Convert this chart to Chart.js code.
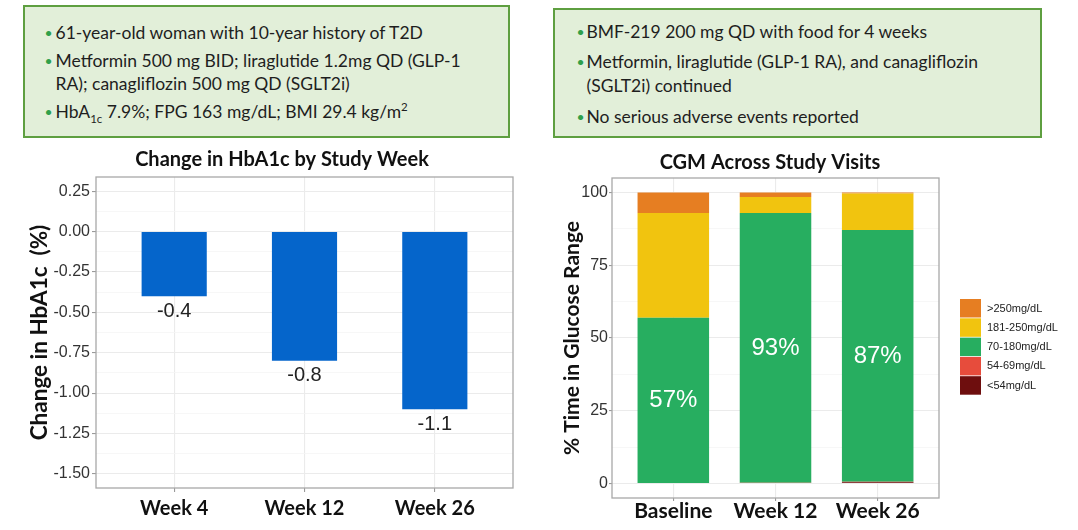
<!DOCTYPE html>
<html lang="en">
<head>
<meta charset="UTF-8">
<title>HbA1c change and CGM time in range</title>
<script src="https://cdn.jsdelivr.net/npm/chart.js"></script>
<style>
  body { margin: 0; width: 1078px; height: 530px; background: #fff; position: relative; overflow: hidden;
         font-family: Lato, 'Noto Sans', sans-serif; }
  .box { position: absolute; box-sizing: border-box; background: #E2EFD9; border: 2.5px solid #5E9F40; color: #1e1e1e;
         font-size: 17.5px; white-space: nowrap; }
  .box ul { margin: 0; padding: 0; list-style: none; }
  .box li { position: relative; }
  .box li:before { content: '\2022'; color: #2FA04A; position: absolute; left: -11px; font-size: 14px; }
  #box1 { left: 23px; top: 5px; width: 487px; height: 133px; padding: 14px 0 0 30.5px; }
  #box1 li { line-height: 23px; margin-bottom: 5px; }
  #box2 { left: 553px; top: 8px; width: 489px; height: 130px; padding: 9.5px 0 0 31.5px; }
  #box2 li { line-height: 24px; margin-bottom: 6.5px; }
  #box2 li:before { left: -10px; }
  sub, sup { font-size: 11.5px; line-height: 0; }
  #leftChart { position: absolute; left: 0; top: 145px; }
  #rightChart { position: absolute; left: 540px; top: 145px; }
</style>
</head>
<body>
  <div class="box" id="box1">
    <ul>
      <li>61-year-old woman with 10-year history of T2D</li>
      <li>Metformin 500 mg BID; liraglutide 1.2mg QD (GLP-1<br>RA); canagliflozin 500 mg QD (SGLT2i)</li>
      <li>HbA<sub>1c</sub> 7.9%; FPG 163 mg/dL; BMI 29.4 kg/m<sup>2</sup></li>
    </ul>
  </div>
  <div class="box" id="box2">
    <ul>
      <li>BMF-219 200 mg QD with food for 4 weeks</li>
      <li>Metformin, liraglutide (GLP-1 RA), and canagliflozin<br>(SGLT2i) continued</li>
      <li>No serious adverse events reported</li>
    </ul>
  </div>

  <canvas id="leftChart" width="540" height="385"></canvas>
  <canvas id="rightChart" width="538" height="385"></canvas>

  <script>
    // data
    const weekLabels = ['Week 4', 'Week 12', 'Week 26'];
    const hba1cChange = [-0.4, -0.8, -1.1];
    const hba1cTicks = [0.25, 0, -0.25, -0.5, -0.75, -1, -1.25, -1.5];

    const visitLabels = ['Baseline', 'Week 12', 'Week 26'];
    const rangeLabels = ['<54mg/dL', '54-69mg/dL', '70-180mg/dL', '181-250mg/dL', '>250mg/dL'];
    const below54 = [0, 0, 0.4];
    const range54to69 = [0, 0.2, 0.2];
    const range70to180 = [57, 92.8, 86.5];
    const range181to250 = [36, 5.5, 12.6];
    const above250 = [7, 1.5, 0.3];
    const tirLabels = ['57%', '93%', '87%'];
    const cgmTicks = [100, 75, 50, 25, 0];

    const rangeColors = ['#6E0E0E', '#E74C3C', '#27AE60', '#F1C40F', '#E67E22'];

    Chart.defaults.animation = false;
    Chart.defaults.plugins.legend.display = false;
    Chart.defaults.plugins.tooltip.enabled = false;

    // major ticks plus a minor line halfway between each pair (ggplot style)
    function withMinor(list, lo, hi) {
      const sorted = [...list].sort((a, b) => a - b);
      const out = [];
      const step = sorted[1] - sorted[0];
      for (let i = 0; i < sorted.length; i++) {
        const below = sorted[i] - step / 2;
        if (i === 0 && below > lo) out.push({ value: below, minor: true });
        out.push({ value: sorted[i] });
        const mid = sorted[i] + step / 2;
        if (mid < hi) out.push({ value: mid, minor: true });
      }
      return out;
    }

    const isMinor = c => c.tick && c.tick.minor;

    function yGrid() {
      return {
        color: c => isMinor(c) ? '#F5F5F5' : '#EBEBEB',
        lineWidth: c => isMinor(c) ? 0.8 : 1.1,
        tickColor: c => isMinor(c) ? 'rgba(0,0,0,0)' : '#9A9A9A',
        tickLength: 4
      };
    }

    function frameAndTitle(title, tx, ty, extra) {
      return {
        id: 'frameAndTitle',
        afterDraw(chart) {
          const { ctx, chartArea: a } = chart;
          ctx.save();
          ctx.strokeStyle = '#A8A8A8';
          ctx.lineWidth = 1.3;
          ctx.strokeRect(a.left, a.top, a.right - a.left, a.bottom - a.top);
          ctx.fillStyle = '#111';
          ctx.font = 'bold 20px Lato';
          ctx.textAlign = 'center';
          ctx.textBaseline = 'middle';
          ctx.fillText(title, tx, ty);
          if (extra) extra(chart, ctx);
          ctx.restore();
        }
      };
    }

    // ---- left: change in HbA1c ----
    new Chart(document.getElementById('leftChart'), {
      type: 'bar',
      data: {
        datasets: [{
          data: hba1cChange.map((v, i) => ({ x: i + 1, y: v })),
          backgroundColor: '#0565CB',
          barPercentage: 0.5,
          categoryPercentage: 1
        }]
      },
      options: {
        responsive: false,
        layout: { padding: { top: 32, right: 27, left: 0, bottom: 0 } },
        scales: {
          x: {
            type: 'linear', min: 0.4, max: 3.6, offset: false,
            afterBuildTicks: s => { s.ticks = weekLabels.map((_, i) => ({ value: i + 1 })); },
            afterFit: s => { s.height = 42; },
            grid: { offset: false, color: '#EBEBEB', lineWidth: 1.1, tickColor: '#9A9A9A', tickLength: 4 },
            border: { display: false },
            ticks: {
              callback: v => weekLabels[Math.round(v) - 1],
              font: { family: 'Lato', weight: 'bold', size: 20, lineHeight: 1 },
              color: '#111', padding: 7, maxRotation: 0
            }
          },
          y: {
            min: -1.5875, max: 0.3375,
            afterBuildTicks: s => { s.ticks = withMinor(hba1cTicks, -1.5875, 0.3375); },
            afterFit: s => { s.width = 96; },
            grid: yGrid(),
            border: { display: false },
            ticks: {
              callback: (v, i, t) => t[i].minor ? '' : v.toFixed(2),
              font: { family: 'Liberation Sans', size: 16 },
              color: '#333', padding: 2
            },
            title: {
              display: true, text: 'Change in HbA1c  (%)',
              font: { family: 'Lato', weight: 'bold', size: 22.5 },
              color: '#111', padding: { top: 26, bottom: 0 }
            }
          }
        }
      },
      plugins: [frameAndTitle('Change in HbA1c by Study Week', 282, 15, (chart, ctx) => {
        const meta = chart.getDatasetMeta(0);
        ctx.font = '20px Liberation Sans';
        ctx.fillStyle = '#222';
        meta.data.forEach((bar, i) => {
          ctx.fillText(hba1cChange[i].toFixed(1), bar.x, bar.y + 15);
        });
      })]
    });

    // ---- right: CGM stacked bars ----
    const cgmSeries = [below54, range54to69, range70to180, range181to250, above250];

    new Chart(document.getElementById('rightChart'), {
      type: 'bar',
      data: {
        datasets: cgmSeries.map((vals, k) => ({
          label: rangeLabels[k],
          data: vals.map((v, i) => ({ x: i + 1, y: v })),
          backgroundColor: rangeColors[k],
          barPercentage: 0.7,
          categoryPercentage: 1
        }))
      },
      options: {
        responsive: false,
        layout: { padding: { top: 33, right: 139, left: 0, bottom: 0 } },
        scales: {
          x: {
            type: 'linear', min: 0.4, max: 3.6, stacked: true, offset: false,
            afterBuildTicks: s => { s.ticks = visitLabels.map((_, i) => ({ value: i + 1 })); },
            afterFit: s => { s.height = 32; },
            grid: { offset: false, color: '#EBEBEB', lineWidth: 1.1, tickColor: '#9A9A9A', tickLength: 3 },
            border: { display: false },
            ticks: {
              callback: v => visitLabels[Math.round(v) - 1],
              font: { family: 'Lato', weight: 'bold', size: 21, lineHeight: 1 },
              color: '#111', padding: 0, maxRotation: 0
            }
          },
          y: {
            min: -5, max: 105, stacked: true,
            afterBuildTicks: s => { s.ticks = withMinor(cgmTicks, -5, 105); },
            afterFit: s => { s.width = 72; },
            grid: Object.assign(yGrid(), { tickLength: 3 }),
            border: { display: false },
            ticks: {
              callback: (v, i, t) => t[i].minor ? '' : String(v),
              font: { family: 'Liberation Sans', size: 16 },
              color: '#333', padding: 1
            },
            title: {
              display: true, text: '% Time in Glucose Range',
              font: { family: 'Lato', weight: 'bold', size: 21 },
              color: '#111', padding: { top: 20, bottom: 0 }
            }
          }
        }
      },
      plugins: [frameAndTitle('CGM Across Study Visits', 230, 18, (chart, ctx) => {
        // white time-in-range labels on the green segment
        const green = chart.getDatasetMeta(2);
        ctx.font = '24px Liberation Sans';
        ctx.fillStyle = '#fff';
        green.data.forEach((bar, i) => {
          ctx.fillText(tirLabels[i], bar.x, (bar.y + bar.base) / 2);
        });
        // legend, top entry is the highest range
        ctx.textAlign = 'left';
        ctx.font = '11px Liberation Sans';
        const x0 = 420, y0 = 154, pitch = 19.3;
        for (let r = 0; r < rangeLabels.length; r++) {
          const k = rangeLabels.length - 1 - r;
          const y = y0 + r * pitch;
          ctx.fillStyle = rangeColors[k];
          ctx.fillRect(x0, y, 21, 18.5);
          ctx.fillStyle = '#222';
          ctx.fillText(rangeLabels[k], x0 + 27, y + 9.5);
        }
      })]
    });
  </script>
</body>
</html>
